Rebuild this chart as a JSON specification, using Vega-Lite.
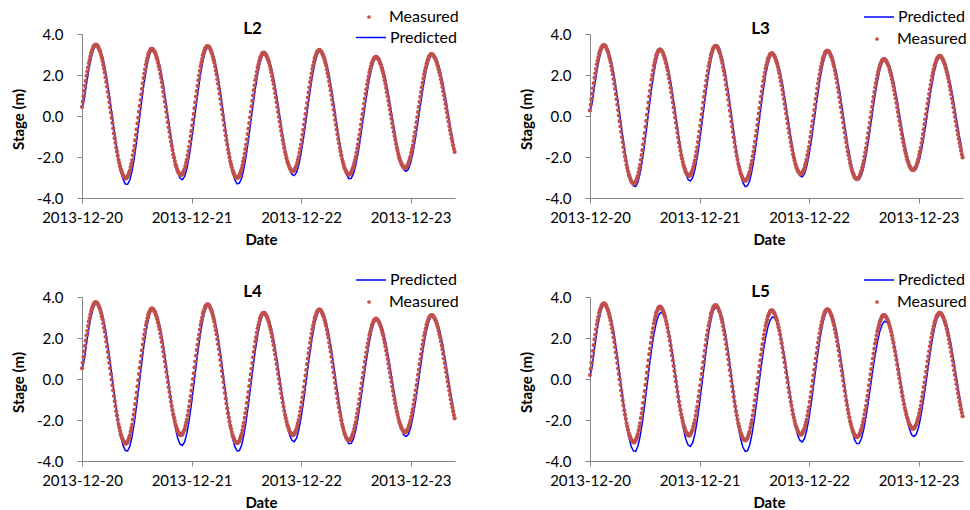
{
"$schema":"https://vega.github.io/schema/vega-lite/v6.json",
"background":"white",
"padding":{"left":11,"top":1,"right":2,"bottom":0},
"bounds":"flush",
"columns":2,
"spacing":{"row":99,"column":135},
"resolve":{"scale":{"fill":"independent","stroke":"independent"},"legend":{"fill":"independent","stroke":"independent"}},
"config":{
"font":"Lato",
"view":{"stroke":null},
"axis":{"grid":false,"domainColor":"#868686","tickColor":"#868686","labelColor":"#000000","titleColor":"#000000","labelFont":"Lato","titleFont":"Lato","labelFontSize":15,"titleFontSize":15,"titleFontWeight":"bold","tickSize":5,"labelFlush":false,"labelBound":false,"labelOverlap":false},
"legend":{"labelFont":"Lato","labelFontSize":16,"labelColor":"#000000","padding":0,"symbolOpacity":1}
},
"datasets":{
"L2m":[
{"t":0,"m":0.44},{"t":10,"m":0.7},{"t":20,"m":0.96},{"t":30,"m":1.22},{"t":40,"m":1.47},{"t":50,"m":1.71},{"t":60,"m":1.96},{"t":70,"m":2.17},{"t":80,"m":2.37},{"t":90,"m":2.58},{"t":100,"m":2.74},{"t":110,"m":2.91},{"t":120,"m":3.07},{"t":130,"m":3.17},{"t":140,"m":3.28},{"t":150,"m":3.38},{"t":160,"m":3.43},{"t":170,"m":3.46},{"t":180,"m":3.48},{"t":190,"m":3.47},{"t":200,"m":3.44},{"t":210,"m":3.39},{"t":220,"m":3.3},{"t":230,"m":3.21},{"t":240,"m":3.12},{"t":250,"m":2.97},{"t":260,"m":2.83},{"t":270,"m":2.68},{"t":280,"m":2.49},{"t":290,"m":2.3},{"t":300,"m":2.11},{"t":310,"m":1.88},{"t":320,"m":1.66},{"t":330,"m":1.43},{"t":340,"m":1.18},{"t":350,"m":0.93},{"t":360,"m":0.68},{"t":370,"m":0.42},{"t":380,"m":0.17},{"t":390,"m":-0.09},{"t":400,"m":-0.34},{"t":410,"m":-0.6},{"t":420,"m":-0.85},{"t":430,"m":-1.08},{"t":440,"m":-1.31},{"t":450,"m":-1.54},{"t":460,"m":-1.74},{"t":470,"m":-1.94},{"t":480,"m":-2.14},{"t":490,"m":-2.29},{"t":500,"m":-2.45},{"t":510,"m":-2.6},{"t":520,"m":-2.7},{"t":530,"m":-2.81},{"t":540,"m":-2.91},{"t":550,"m":-2.95},{"t":560,"m":-3.0},{"t":570,"m":-3.04},{"t":580,"m":-3.04},{"t":590,"m":-3.0},{"t":600,"m":-2.96},{"t":610,"m":-2.86},{"t":620,"m":-2.76},{"t":630,"m":-2.66},{"t":640,"m":-2.49},{"t":650,"m":-2.32},{"t":660,"m":-2.15},{"t":670,"m":-1.92},{"t":680,"m":-1.69},{"t":690,"m":-1.46},{"t":700,"m":-1.19},{"t":710,"m":-0.92},{"t":720,"m":-0.65},{"t":730,"m":-0.36},{"t":740,"m":-0.08},{"t":750,"m":0.21},{"t":760,"m":0.49},{"t":770,"m":0.78},{"t":780,"m":1.06},{"t":790,"m":1.32},{"t":800,"m":1.59},{"t":810,"m":1.85},{"t":820,"m":2.07},{"t":830,"m":2.28},{"t":840,"m":2.5},{"t":850,"m":2.66},{"t":860,"m":2.82},{"t":870,"m":2.98},{"t":880,"m":3.07},{"t":890,"m":3.15},{"t":900,"m":3.24},{"t":910,"m":3.27},{"t":920,"m":3.28},{"t":930,"m":3.26},{"t":940,"m":3.21},{"t":950,"m":3.15},{"t":960,"m":3.1},{"t":970,"m":2.99},{"t":980,"m":2.87},{"t":990,"m":2.76},{"t":1000,"m":2.6},{"t":1010,"m":2.43},{"t":1020,"m":2.27},{"t":1030,"m":2.06},{"t":1040,"m":1.86},{"t":1050,"m":1.65},{"t":1060,"m":1.42},{"t":1070,"m":1.18},{"t":1080,"m":0.95},{"t":1090,"m":0.7},{"t":1100,"m":0.45},{"t":1110,"m":0.2},{"t":1120,"m":-0.05},{"t":1130,"m":-0.3},{"t":1140,"m":-0.55},{"t":1150,"m":-0.78},{"t":1160,"m":-1.02},{"t":1170,"m":-1.25},{"t":1180,"m":-1.46},{"t":1190,"m":-1.66},{"t":1200,"m":-1.87},{"t":1210,"m":-2.03},{"t":1220,"m":-2.2},{"t":1230,"m":-2.36},{"t":1240,"m":-2.47},{"t":1250,"m":-2.59},{"t":1260,"m":-2.7},{"t":1270,"m":-2.75},{"t":1280,"m":-2.81},{"t":1290,"m":-2.86},{"t":1300,"m":-2.88},{"t":1310,"m":-2.87},{"t":1320,"m":-2.84},{"t":1330,"m":-2.76},{"t":1340,"m":-2.67},{"t":1350,"m":-2.59},{"t":1360,"m":-2.44},{"t":1370,"m":-2.28},{"t":1380,"m":-2.13},{"t":1390,"m":-1.92},{"t":1400,"m":-1.71},{"t":1410,"m":-1.5},{"t":1420,"m":-1.25},{"t":1430,"m":-0.99},{"t":1440,"m":-0.74},{"t":1450,"m":-0.46},{"t":1460,"m":-0.18},{"t":1470,"m":0.1},{"t":1480,"m":0.38},{"t":1490,"m":0.66},{"t":1500,"m":0.94},{"t":1510,"m":1.21},{"t":1520,"m":1.47},{"t":1530,"m":1.74},{"t":1540,"m":1.97},{"t":1550,"m":2.2},{"t":1560,"m":2.43},{"t":1570,"m":2.61},{"t":1580,"m":2.78},{"t":1590,"m":2.96},{"t":1600,"m":3.07},{"t":1610,"m":3.19},{"t":1620,"m":3.3},{"t":1630,"m":3.35},{"t":1640,"m":3.38},{"t":1650,"m":3.41},{"t":1660,"m":3.4},{"t":1670,"m":3.37},{"t":1680,"m":3.32},{"t":1690,"m":3.23},{"t":1700,"m":3.13},{"t":1710,"m":3.04},{"t":1720,"m":2.89},{"t":1730,"m":2.75},{"t":1740,"m":2.6},{"t":1750,"m":2.41},{"t":1760,"m":2.21},{"t":1770,"m":2.02},{"t":1780,"m":1.79},{"t":1790,"m":1.57},{"t":1800,"m":1.34},{"t":1810,"m":1.09},{"t":1820,"m":0.83},{"t":1830,"m":0.58},{"t":1840,"m":0.32},{"t":1850,"m":0.07},{"t":1860,"m":-0.19},{"t":1870,"m":-0.44},{"t":1880,"m":-0.7},{"t":1890,"m":-0.95},{"t":1900,"m":-1.18},{"t":1910,"m":-1.4},{"t":1920,"m":-1.63},{"t":1930,"m":-1.82},{"t":1940,"m":-2.02},{"t":1950,"m":-2.21},{"t":1960,"m":-2.36},{"t":1970,"m":-2.5},{"t":1980,"m":-2.65},{"t":1990,"m":-2.74},{"t":2000,"m":-2.84},{"t":2010,"m":-2.93},{"t":2020,"m":-2.97},{"t":2030,"m":-3.0},{"t":2040,"m":-3.02},{"t":2050,"m":-3.01},{"t":2060,"m":-2.97},{"t":2070,"m":-2.91},{"t":2080,"m":-2.8},{"t":2090,"m":-2.69},{"t":2100,"m":-2.58},{"t":2110,"m":-2.41},{"t":2120,"m":-2.23},{"t":2130,"m":-2.06},{"t":2140,"m":-1.84},{"t":2150,"m":-1.62},{"t":2160,"m":-1.4},{"t":2170,"m":-1.14},{"t":2180,"m":-0.88},{"t":2190,"m":-0.62},{"t":2200,"m":-0.35},{"t":2210,"m":-0.07},{"t":2220,"m":0.2},{"t":2230,"m":0.47},{"t":2240,"m":0.74},{"t":2250,"m":1.01},{"t":2260,"m":1.26},{"t":2270,"m":1.5},{"t":2280,"m":1.75},{"t":2290,"m":1.95},{"t":2300,"m":2.16},{"t":2310,"m":2.36},{"t":2320,"m":2.51},{"t":2330,"m":2.66},{"t":2340,"m":2.81},{"t":2350,"m":2.89},{"t":2360,"m":2.97},{"t":2370,"m":3.05},{"t":2380,"m":3.08},{"t":2390,"m":3.09},{"t":2400,"m":3.08},{"t":2410,"m":3.03},{"t":2420,"m":2.98},{"t":2430,"m":2.92},{"t":2440,"m":2.81},{"t":2450,"m":2.71},{"t":2460,"m":2.6},{"t":2470,"m":2.45},{"t":2480,"m":2.29},{"t":2490,"m":2.14},{"t":2500,"m":1.95},{"t":2510,"m":1.75},{"t":2520,"m":1.56},{"t":2530,"m":1.34},{"t":2540,"m":1.12},{"t":2550,"m":0.9},{"t":2560,"m":0.67},{"t":2570,"m":0.43},{"t":2580,"m":0.2},{"t":2590,"m":-0.04},{"t":2600,"m":-0.27},{"t":2610,"m":-0.51},{"t":2620,"m":-0.73},{"t":2630,"m":-0.95},{"t":2640,"m":-1.17},{"t":2650,"m":-1.36},{"t":2660,"m":-1.56},{"t":2670,"m":-1.75},{"t":2680,"m":-1.9},{"t":2690,"m":-2.06},{"t":2700,"m":-2.21},{"t":2710,"m":-2.32},{"t":2720,"m":-2.42},{"t":2730,"m":-2.53},{"t":2740,"m":-2.58},{"t":2750,"m":-2.64},{"t":2760,"m":-2.69},{"t":2770,"m":-2.7},{"t":2780,"m":-2.69},{"t":2790,"m":-2.66},{"t":2800,"m":-2.58},{"t":2810,"m":-2.51},{"t":2820,"m":-2.43},{"t":2830,"m":-2.29},{"t":2840,"m":-2.14},{"t":2850,"m":-2.0},{"t":2860,"m":-1.8},{"t":2870,"m":-1.6},{"t":2880,"m":-1.4},{"t":2890,"m":-1.16},{"t":2900,"m":-0.92},{"t":2910,"m":-0.68},{"t":2920,"m":-0.42},{"t":2930,"m":-0.16},{"t":2940,"m":0.1},{"t":2950,"m":0.37},{"t":2960,"m":0.63},{"t":2970,"m":0.9},{"t":2980,"m":1.15},{"t":2990,"m":1.4},{"t":3000,"m":1.65},{"t":3010,"m":1.86},{"t":3020,"m":2.08},{"t":3030,"m":2.29},{"t":3040,"m":2.46},{"t":3050,"m":2.63},{"t":3060,"m":2.8},{"t":3070,"m":2.9},{"t":3080,"m":3.01},{"t":3090,"m":3.11},{"t":3100,"m":3.16},{"t":3110,"m":3.2},{"t":3120,"m":3.22},{"t":3130,"m":3.2},{"t":3140,"m":3.17},{"t":3150,"m":3.13},{"t":3160,"m":3.04},{"t":3170,"m":2.96},{"t":3180,"m":2.87},{"t":3190,"m":2.73},{"t":3200,"m":2.6},{"t":3210,"m":2.46},{"t":3220,"m":2.28},{"t":3230,"m":2.09},{"t":3240,"m":1.91},{"t":3250,"m":1.69},{"t":3260,"m":1.48},{"t":3270,"m":1.26},{"t":3280,"m":1.02},{"t":3290,"m":0.79},{"t":3300,"m":0.55},{"t":3310,"m":0.3},{"t":3320,"m":0.06},{"t":3330,"m":-0.19},{"t":3340,"m":-0.43},{"t":3350,"m":-0.66},{"t":3360,"m":-0.9},{"t":3370,"m":-1.12},{"t":3380,"m":-1.33},{"t":3390,"m":-1.55},{"t":3400,"m":-1.73},{"t":3410,"m":-1.92},{"t":3420,"m":-2.1},{"t":3430,"m":-2.24},{"t":3440,"m":-2.37},{"t":3450,"m":-2.51},{"t":3460,"m":-2.6},{"t":3470,"m":-2.68},{"t":3480,"m":-2.77},{"t":3490,"m":-2.8},{"t":3500,"m":-2.83},{"t":3510,"m":-2.86},{"t":3520,"m":-2.85},{"t":3530,"m":-2.81},{"t":3540,"m":-2.76},{"t":3550,"m":-2.66},{"t":3560,"m":-2.56},{"t":3570,"m":-2.46},{"t":3580,"m":-2.3},{"t":3590,"m":-2.15},{"t":3600,"m":-1.99},{"t":3610,"m":-1.79},{"t":3620,"m":-1.58},{"t":3630,"m":-1.38},{"t":3640,"m":-1.14},{"t":3650,"m":-0.91},{"t":3660,"m":-0.67},{"t":3670,"m":-0.42},{"t":3680,"m":-0.16},{"t":3690,"m":0.09},{"t":3700,"m":0.34},{"t":3710,"m":0.6},{"t":3720,"m":0.85},{"t":3730,"m":1.08},{"t":3740,"m":1.31},{"t":3750,"m":1.54},{"t":3760,"m":1.74},{"t":3770,"m":1.93},{"t":3780,"m":2.13},{"t":3790,"m":2.28},{"t":3800,"m":2.42},{"t":3810,"m":2.57},{"t":3820,"m":2.65},{"t":3830,"m":2.74},{"t":3840,"m":2.82},{"t":3850,"m":2.85},{"t":3860,"m":2.88},{"t":3870,"m":2.89},{"t":3880,"m":2.86},{"t":3890,"m":2.81},{"t":3900,"m":2.77},{"t":3910,"m":2.68},{"t":3920,"m":2.59},{"t":3930,"m":2.5},{"t":3940,"m":2.36},{"t":3950,"m":2.23},{"t":3960,"m":2.09},{"t":3970,"m":1.92},{"t":3980,"m":1.74},{"t":3990,"m":1.57},{"t":4000,"m":1.37},{"t":4010,"m":1.16},{"t":4020,"m":0.96},{"t":4030,"m":0.74},{"t":4040,"m":0.53},{"t":4050,"m":0.31},{"t":4060,"m":0.09},{"t":4070,"m":-0.13},{"t":4080,"m":-0.35},{"t":4090,"m":-0.56},{"t":4100,"m":-0.77},{"t":4110,"m":-0.98},{"t":4120,"m":-1.17},{"t":4130,"m":-1.36},{"t":4140,"m":-1.55},{"t":4150,"m":-1.7},{"t":4160,"m":-1.86},{"t":4170,"m":-2.01},{"t":4180,"m":-2.12},{"t":4190,"m":-2.22},{"t":4200,"m":-2.33},{"t":4210,"m":-2.39},{"t":4220,"m":-2.45},{"t":4230,"m":-2.51},{"t":4240,"m":-2.53},{"t":4250,"m":-2.54},{"t":4260,"m":-2.52},{"t":4270,"m":-2.47},{"t":4280,"m":-2.4},{"t":4290,"m":-2.34},{"t":4300,"m":-2.22},{"t":4310,"m":-2.09},{"t":4320,"m":-1.97},{"t":4330,"m":-1.79},{"t":4340,"m":-1.62},{"t":4350,"m":-1.44},{"t":4360,"m":-1.22},{"t":4370,"m":-1.01},{"t":4380,"m":-0.79},{"t":4390,"m":-0.55},{"t":4400,"m":-0.3},{"t":4410,"m":-0.06},{"t":4420,"m":0.19},{"t":4430,"m":0.44},{"t":4440,"m":0.69},{"t":4450,"m":0.93},{"t":4460,"m":1.16},{"t":4470,"m":1.4},{"t":4480,"m":1.61},{"t":4490,"m":1.83},{"t":4500,"m":2.04},{"t":4510,"m":2.21},{"t":4520,"m":2.37},{"t":4530,"m":2.54},{"t":4540,"m":2.65},{"t":4550,"m":2.77},{"t":4560,"m":2.88},{"t":4570,"m":2.93},{"t":4580,"m":2.98},{"t":4590,"m":3.02},{"t":4600,"m":3.02},{"t":4610,"m":3.0},{"t":4620,"m":2.97},{"t":4630,"m":2.9},{"t":4640,"m":2.84},{"t":4650,"m":2.77},{"t":4660,"m":2.66},{"t":4670,"m":2.54},{"t":4680,"m":2.43},{"t":4690,"m":2.28},{"t":4700,"m":2.13},{"t":4710,"m":1.98},{"t":4720,"m":1.79},{"t":4730,"m":1.61},{"t":4740,"m":1.42},{"t":4750,"m":1.21},{"t":4760,"m":1.01},{"t":4770,"m":0.8},{"t":4780,"m":0.59},{"t":4790,"m":0.37},{"t":4800,"m":0.16},{"t":4810,"m":-0.06},{"t":4820,"m":-0.27},{"t":4830,"m":-0.49},{"t":4840,"m":-0.69},{"t":4850,"m":-0.88},{"t":4860,"m":-1.08},{"t":4870,"m":-1.25},{"t":4880,"m":-1.43},{"t":4890,"m":-1.6},{"t":4900,"m":-1.75}
],
"L2p":[
{"t":0,"p":0.4},{"t":30,"p":0.83},{"t":60,"p":1.59},{"t":90,"p":2.27},{"t":120,"p":2.83},{"t":150,"p":3.23},{"t":180,"p":3.43},{"t":210,"p":3.44},{"t":240,"p":3.25},{"t":270,"p":2.9},{"t":300,"p":2.38},{"t":330,"p":1.74},{"t":360,"p":0.99},{"t":390,"p":0.19},{"t":420,"p":-0.62},{"t":450,"p":-1.4},{"t":480,"p":-2.09},{"t":510,"p":-2.67},{"t":540,"p":-3.08},{"t":570,"p":-3.32},{"t":600,"p":-3.33},{"t":630,"p":-3.11},{"t":660,"p":-2.66},{"t":690,"p":-2.0},{"t":720,"p":-1.19},{"t":750,"p":-0.3},{"t":780,"p":0.59},{"t":810,"p":1.44},{"t":840,"p":2.17},{"t":870,"p":2.74},{"t":900,"p":3.11},{"t":930,"p":3.25},{"t":960,"p":3.18},{"t":990,"p":2.93},{"t":1020,"p":2.51},{"t":1050,"p":1.94},{"t":1080,"p":1.26},{"t":1110,"p":0.51},{"t":1140,"p":-0.28},{"t":1170,"p":-1.04},{"t":1200,"p":-1.74},{"t":1230,"p":-2.33},{"t":1260,"p":-2.78},{"t":1290,"p":-3.04},{"t":1320,"p":-3.11},{"t":1350,"p":-2.95},{"t":1380,"p":-2.56},{"t":1410,"p":-1.97},{"t":1440,"p":-1.23},{"t":1470,"p":-0.39},{"t":1500,"p":0.48},{"t":1530,"p":1.32},{"t":1560,"p":2.08},{"t":1590,"p":2.69},{"t":1620,"p":3.13},{"t":1650,"p":3.36},{"t":1680,"p":3.37},{"t":1710,"p":3.18},{"t":1740,"p":2.82},{"t":1770,"p":2.29},{"t":1800,"p":1.65},{"t":1830,"p":0.9},{"t":1860,"p":0.09},{"t":1890,"p":-0.72},{"t":1920,"p":-1.49},{"t":1950,"p":-2.17},{"t":1980,"p":-2.72},{"t":2010,"p":-3.11},{"t":2040,"p":-3.31},{"t":2070,"p":-3.28},{"t":2100,"p":-3.03},{"t":2130,"p":-2.56},{"t":2160,"p":-1.91},{"t":2190,"p":-1.13},{"t":2220,"p":-0.28},{"t":2250,"p":0.57},{"t":2280,"p":1.36},{"t":2310,"p":2.05},{"t":2340,"p":2.58},{"t":2370,"p":2.93},{"t":2400,"p":3.06},{"t":2430,"p":3.0},{"t":2460,"p":2.76},{"t":2490,"p":2.36},{"t":2520,"p":1.83},{"t":2550,"p":1.2},{"t":2580,"p":0.49},{"t":2610,"p":-0.25},{"t":2640,"p":-0.97},{"t":2670,"p":-1.63},{"t":2700,"p":-2.18},{"t":2730,"p":-2.6},{"t":2760,"p":-2.85},{"t":2790,"p":-2.91},{"t":2820,"p":-2.76},{"t":2850,"p":-2.4},{"t":2880,"p":-1.85},{"t":2910,"p":-1.15},{"t":2940,"p":-0.36},{"t":2970,"p":0.46},{"t":3000,"p":1.26},{"t":3030,"p":1.96},{"t":3060,"p":2.54},{"t":3090,"p":2.96},{"t":3120,"p":3.17},{"t":3150,"p":3.18},{"t":3180,"p":3.0},{"t":3210,"p":2.66},{"t":3240,"p":2.17},{"t":3270,"p":1.56},{"t":3300,"p":0.86},{"t":3330,"p":0.1},{"t":3360,"p":-0.66},{"t":3390,"p":-1.37},{"t":3420,"p":-2.01},{"t":3450,"p":-2.52},{"t":3480,"p":-2.87},{"t":3510,"p":-3.06},{"t":3540,"p":-3.04},{"t":3570,"p":-2.82},{"t":3600,"p":-2.4},{"t":3630,"p":-1.82},{"t":3660,"p":-1.12},{"t":3690,"p":-0.35},{"t":3720,"p":0.44},{"t":3750,"p":1.18},{"t":3780,"p":1.83},{"t":3810,"p":2.35},{"t":3840,"p":2.7},{"t":3870,"p":2.86},{"t":3900,"p":2.83},{"t":3930,"p":2.63},{"t":3960,"p":2.29},{"t":3990,"p":1.82},{"t":4020,"p":1.24},{"t":4050,"p":0.59},{"t":4080,"p":-0.09},{"t":4110,"p":-0.76},{"t":4140,"p":-1.39},{"t":4170,"p":-1.94},{"t":4200,"p":-2.35},{"t":4230,"p":-2.61},{"t":4260,"p":-2.7},{"t":4290,"p":-2.61},{"t":4320,"p":-2.31},{"t":4350,"p":-1.83},{"t":4380,"p":-1.2},{"t":4410,"p":-0.48},{"t":4440,"p":0.28},{"t":4470,"p":1.03},{"t":4500,"p":1.71},{"t":4530,"p":2.29},{"t":4560,"p":2.71},{"t":4590,"p":2.95},{"t":4620,"p":3.0},{"t":4650,"p":2.87},{"t":4680,"p":2.6},{"t":4710,"p":2.2},{"t":4740,"p":1.69},{"t":4770,"p":1.09},{"t":4800,"p":0.44},{"t":4830,"p":-0.23},{"t":4860,"p":-0.87},{"t":4890,"p":-1.45}
],
"L3m":[
{"t":0,"m":0.27},{"t":10,"m":0.54},{"t":20,"m":0.82},{"t":30,"m":1.09},{"t":40,"m":1.35},{"t":50,"m":1.6},{"t":60,"m":1.86},{"t":70,"m":2.08},{"t":80,"m":2.3},{"t":90,"m":2.52},{"t":100,"m":2.69},{"t":110,"m":2.86},{"t":120,"m":3.03},{"t":130,"m":3.14},{"t":140,"m":3.24},{"t":150,"m":3.35},{"t":160,"m":3.4},{"t":170,"m":3.44},{"t":180,"m":3.46},{"t":190,"m":3.45},{"t":200,"m":3.42},{"t":210,"m":3.37},{"t":220,"m":3.27},{"t":230,"m":3.18},{"t":240,"m":3.08},{"t":250,"m":2.93},{"t":260,"m":2.78},{"t":270,"m":2.63},{"t":280,"m":2.43},{"t":290,"m":2.24},{"t":300,"m":2.04},{"t":310,"m":1.8},{"t":320,"m":1.57},{"t":330,"m":1.33},{"t":340,"m":1.07},{"t":350,"m":0.82},{"t":360,"m":0.56},{"t":370,"m":0.29},{"t":380,"m":0.02},{"t":390,"m":-0.25},{"t":400,"m":-0.51},{"t":410,"m":-0.77},{"t":420,"m":-1.03},{"t":430,"m":-1.27},{"t":440,"m":-1.52},{"t":450,"m":-1.76},{"t":460,"m":-1.97},{"t":470,"m":-2.17},{"t":480,"m":-2.38},{"t":490,"m":-2.54},{"t":500,"m":-2.7},{"t":510,"m":-2.86},{"t":520,"m":-2.96},{"t":530,"m":-3.07},{"t":540,"m":-3.17},{"t":550,"m":-3.22},{"t":560,"m":-3.26},{"t":570,"m":-3.31},{"t":580,"m":-3.31},{"t":590,"m":-3.28},{"t":600,"m":-3.23},{"t":610,"m":-3.13},{"t":620,"m":-3.02},{"t":630,"m":-2.92},{"t":640,"m":-2.74},{"t":650,"m":-2.56},{"t":660,"m":-2.38},{"t":670,"m":-2.14},{"t":680,"m":-1.91},{"t":690,"m":-1.67},{"t":700,"m":-1.39},{"t":710,"m":-1.11},{"t":720,"m":-0.83},{"t":730,"m":-0.53},{"t":740,"m":-0.24},{"t":750,"m":0.06},{"t":760,"m":0.36},{"t":770,"m":0.65},{"t":780,"m":0.95},{"t":790,"m":1.22},{"t":800,"m":1.5},{"t":810,"m":1.77},{"t":820,"m":1.99},{"t":830,"m":2.22},{"t":840,"m":2.44},{"t":850,"m":2.61},{"t":860,"m":2.77},{"t":870,"m":2.94},{"t":880,"m":3.03},{"t":890,"m":3.11},{"t":900,"m":3.2},{"t":910,"m":3.23},{"t":920,"m":3.25},{"t":930,"m":3.23},{"t":940,"m":3.19},{"t":950,"m":3.13},{"t":960,"m":3.07},{"t":970,"m":2.96},{"t":980,"m":2.84},{"t":990,"m":2.73},{"t":1000,"m":2.57},{"t":1010,"m":2.4},{"t":1020,"m":2.24},{"t":1030,"m":2.03},{"t":1040,"m":1.83},{"t":1050,"m":1.62},{"t":1060,"m":1.38},{"t":1070,"m":1.15},{"t":1080,"m":0.91},{"t":1090,"m":0.66},{"t":1100,"m":0.42},{"t":1110,"m":0.17},{"t":1120,"m":-0.08},{"t":1130,"m":-0.33},{"t":1140,"m":-0.58},{"t":1150,"m":-0.82},{"t":1160,"m":-1.05},{"t":1170,"m":-1.29},{"t":1180,"m":-1.5},{"t":1190,"m":-1.7},{"t":1200,"m":-1.91},{"t":1210,"m":-2.07},{"t":1220,"m":-2.24},{"t":1230,"m":-2.4},{"t":1240,"m":-2.51},{"t":1250,"m":-2.63},{"t":1260,"m":-2.74},{"t":1270,"m":-2.79},{"t":1280,"m":-2.85},{"t":1290,"m":-2.9},{"t":1300,"m":-2.92},{"t":1310,"m":-2.91},{"t":1320,"m":-2.88},{"t":1330,"m":-2.8},{"t":1340,"m":-2.71},{"t":1350,"m":-2.63},{"t":1360,"m":-2.48},{"t":1370,"m":-2.32},{"t":1380,"m":-2.17},{"t":1390,"m":-1.96},{"t":1400,"m":-1.74},{"t":1410,"m":-1.53},{"t":1420,"m":-1.27},{"t":1430,"m":-1.02},{"t":1440,"m":-0.76},{"t":1450,"m":-0.48},{"t":1460,"m":-0.2},{"t":1470,"m":0.08},{"t":1480,"m":0.36},{"t":1490,"m":0.65},{"t":1500,"m":0.93},{"t":1510,"m":1.2},{"t":1520,"m":1.46},{"t":1530,"m":1.73},{"t":1540,"m":1.96},{"t":1550,"m":2.2},{"t":1560,"m":2.43},{"t":1570,"m":2.61},{"t":1580,"m":2.79},{"t":1590,"m":2.97},{"t":1600,"m":3.08},{"t":1610,"m":3.2},{"t":1620,"m":3.31},{"t":1630,"m":3.36},{"t":1640,"m":3.4},{"t":1650,"m":3.42},{"t":1660,"m":3.41},{"t":1670,"m":3.38},{"t":1680,"m":3.33},{"t":1690,"m":3.23},{"t":1700,"m":3.14},{"t":1710,"m":3.04},{"t":1720,"m":2.89},{"t":1730,"m":2.74},{"t":1740,"m":2.59},{"t":1750,"m":2.39},{"t":1760,"m":2.2},{"t":1770,"m":2.0},{"t":1780,"m":1.77},{"t":1790,"m":1.53},{"t":1800,"m":1.3},{"t":1810,"m":1.04},{"t":1820,"m":0.79},{"t":1830,"m":0.53},{"t":1840,"m":0.26},{"t":1850,"m":0.0},{"t":1860,"m":-0.27},{"t":1870,"m":-0.53},{"t":1880,"m":-0.78},{"t":1890,"m":-1.04},{"t":1900,"m":-1.27},{"t":1910,"m":-1.51},{"t":1920,"m":-1.74},{"t":1930,"m":-1.94},{"t":1940,"m":-2.13},{"t":1950,"m":-2.33},{"t":1960,"m":-2.48},{"t":1970,"m":-2.63},{"t":1980,"m":-2.78},{"t":1990,"m":-2.88},{"t":2000,"m":-2.97},{"t":2010,"m":-3.07},{"t":2020,"m":-3.11},{"t":2030,"m":-3.14},{"t":2040,"m":-3.16},{"t":2050,"m":-3.14},{"t":2060,"m":-3.1},{"t":2070,"m":-3.05},{"t":2080,"m":-2.94},{"t":2090,"m":-2.83},{"t":2100,"m":-2.72},{"t":2110,"m":-2.54},{"t":2120,"m":-2.37},{"t":2130,"m":-2.19},{"t":2140,"m":-1.96},{"t":2150,"m":-1.74},{"t":2160,"m":-1.51},{"t":2170,"m":-1.25},{"t":2180,"m":-0.98},{"t":2190,"m":-0.72},{"t":2200,"m":-0.44},{"t":2210,"m":-0.16},{"t":2220,"m":0.12},{"t":2230,"m":0.39},{"t":2240,"m":0.67},{"t":2250,"m":0.94},{"t":2260,"m":1.19},{"t":2270,"m":1.45},{"t":2280,"m":1.7},{"t":2290,"m":1.91},{"t":2300,"m":2.11},{"t":2310,"m":2.32},{"t":2320,"m":2.47},{"t":2330,"m":2.62},{"t":2340,"m":2.77},{"t":2350,"m":2.85},{"t":2360,"m":2.94},{"t":2370,"m":3.02},{"t":2380,"m":3.04},{"t":2390,"m":3.06},{"t":2400,"m":3.05},{"t":2410,"m":3.0},{"t":2420,"m":2.95},{"t":2430,"m":2.89},{"t":2440,"m":2.78},{"t":2450,"m":2.67},{"t":2460,"m":2.56},{"t":2470,"m":2.4},{"t":2480,"m":2.25},{"t":2490,"m":2.09},{"t":2500,"m":1.89},{"t":2510,"m":1.7},{"t":2520,"m":1.5},{"t":2530,"m":1.28},{"t":2540,"m":1.05},{"t":2550,"m":0.83},{"t":2560,"m":0.59},{"t":2570,"m":0.36},{"t":2580,"m":0.12},{"t":2590,"m":-0.12},{"t":2600,"m":-0.36},{"t":2610,"m":-0.6},{"t":2620,"m":-0.82},{"t":2630,"m":-1.05},{"t":2640,"m":-1.27},{"t":2650,"m":-1.47},{"t":2660,"m":-1.66},{"t":2670,"m":-1.86},{"t":2680,"m":-2.02},{"t":2690,"m":-2.17},{"t":2700,"m":-2.33},{"t":2710,"m":-2.44},{"t":2720,"m":-2.55},{"t":2730,"m":-2.66},{"t":2740,"m":-2.71},{"t":2750,"m":-2.77},{"t":2760,"m":-2.82},{"t":2770,"m":-2.83},{"t":2780,"m":-2.82},{"t":2790,"m":-2.79},{"t":2800,"m":-2.71},{"t":2810,"m":-2.63},{"t":2820,"m":-2.55},{"t":2830,"m":-2.4},{"t":2840,"m":-2.26},{"t":2850,"m":-2.11},{"t":2860,"m":-1.91},{"t":2870,"m":-1.71},{"t":2880,"m":-1.51},{"t":2890,"m":-1.27},{"t":2900,"m":-1.02},{"t":2910,"m":-0.78},{"t":2920,"m":-0.51},{"t":2930,"m":-0.25},{"t":2940,"m":0.02},{"t":2950,"m":0.29},{"t":2960,"m":0.56},{"t":2970,"m":0.83},{"t":2980,"m":1.08},{"t":2990,"m":1.34},{"t":3000,"m":1.59},{"t":3010,"m":1.81},{"t":3020,"m":2.03},{"t":3030,"m":2.25},{"t":3040,"m":2.42},{"t":3050,"m":2.59},{"t":3060,"m":2.76},{"t":3070,"m":2.87},{"t":3080,"m":2.97},{"t":3090,"m":3.08},{"t":3100,"m":3.13},{"t":3110,"m":3.17},{"t":3120,"m":3.19},{"t":3130,"m":3.17},{"t":3140,"m":3.14},{"t":3150,"m":3.1},{"t":3160,"m":3.01},{"t":3170,"m":2.92},{"t":3180,"m":2.83},{"t":3190,"m":2.69},{"t":3200,"m":2.54},{"t":3210,"m":2.4},{"t":3220,"m":2.21},{"t":3230,"m":2.03},{"t":3240,"m":1.84},{"t":3250,"m":1.62},{"t":3260,"m":1.39},{"t":3270,"m":1.17},{"t":3280,"m":0.92},{"t":3290,"m":0.68},{"t":3300,"m":0.43},{"t":3310,"m":0.18},{"t":3320,"m":-0.07},{"t":3330,"m":-0.32},{"t":3340,"m":-0.57},{"t":3350,"m":-0.81},{"t":3360,"m":-1.06},{"t":3370,"m":-1.28},{"t":3380,"m":-1.51},{"t":3390,"m":-1.73},{"t":3400,"m":-1.92},{"t":3410,"m":-2.1},{"t":3420,"m":-2.29},{"t":3430,"m":-2.43},{"t":3440,"m":-2.58},{"t":3450,"m":-2.72},{"t":3460,"m":-2.81},{"t":3470,"m":-2.9},{"t":3480,"m":-2.99},{"t":3490,"m":-3.03},{"t":3500,"m":-3.06},{"t":3510,"m":-3.08},{"t":3520,"m":-3.06},{"t":3530,"m":-3.02},{"t":3540,"m":-2.98},{"t":3550,"m":-2.88},{"t":3560,"m":-2.78},{"t":3570,"m":-2.68},{"t":3580,"m":-2.52},{"t":3590,"m":-2.36},{"t":3600,"m":-2.19},{"t":3610,"m":-1.98},{"t":3620,"m":-1.78},{"t":3630,"m":-1.57},{"t":3640,"m":-1.33},{"t":3650,"m":-1.08},{"t":3660,"m":-0.84},{"t":3670,"m":-0.58},{"t":3680,"m":-0.33},{"t":3690,"m":-0.07},{"t":3700,"m":0.19},{"t":3710,"m":0.44},{"t":3720,"m":0.7},{"t":3730,"m":0.93},{"t":3740,"m":1.17},{"t":3750,"m":1.4},{"t":3760,"m":1.6},{"t":3770,"m":1.8},{"t":3780,"m":2.0},{"t":3790,"m":2.15},{"t":3800,"m":2.3},{"t":3810,"m":2.45},{"t":3820,"m":2.54},{"t":3830,"m":2.62},{"t":3840,"m":2.71},{"t":3850,"m":2.74},{"t":3860,"m":2.77},{"t":3870,"m":2.78},{"t":3880,"m":2.75},{"t":3890,"m":2.71},{"t":3900,"m":2.66},{"t":3910,"m":2.57},{"t":3920,"m":2.49},{"t":3930,"m":2.4},{"t":3940,"m":2.26},{"t":3950,"m":2.13},{"t":3960,"m":1.99},{"t":3970,"m":1.81},{"t":3980,"m":1.64},{"t":3990,"m":1.46},{"t":4000,"m":1.26},{"t":4010,"m":1.06},{"t":4020,"m":0.86},{"t":4030,"m":0.64},{"t":4040,"m":0.42},{"t":4050,"m":0.2},{"t":4060,"m":-0.02},{"t":4070,"m":-0.24},{"t":4080,"m":-0.46},{"t":4090,"m":-0.67},{"t":4100,"m":-0.88},{"t":4110,"m":-1.09},{"t":4120,"m":-1.28},{"t":4130,"m":-1.46},{"t":4140,"m":-1.65},{"t":4150,"m":-1.8},{"t":4160,"m":-1.96},{"t":4170,"m":-2.11},{"t":4180,"m":-2.22},{"t":4190,"m":-2.32},{"t":4200,"m":-2.43},{"t":4210,"m":-2.49},{"t":4220,"m":-2.55},{"t":4230,"m":-2.61},{"t":4240,"m":-2.63},{"t":4250,"m":-2.64},{"t":4260,"m":-2.62},{"t":4270,"m":-2.57},{"t":4280,"m":-2.5},{"t":4290,"m":-2.44},{"t":4300,"m":-2.32},{"t":4310,"m":-2.19},{"t":4320,"m":-2.07},{"t":4330,"m":-1.89},{"t":4340,"m":-1.72},{"t":4350,"m":-1.54},{"t":4360,"m":-1.32},{"t":4370,"m":-1.11},{"t":4380,"m":-0.89},{"t":4390,"m":-0.65},{"t":4400,"m":-0.4},{"t":4410,"m":-0.16},{"t":4420,"m":0.09},{"t":4430,"m":0.35},{"t":4440,"m":0.6},{"t":4450,"m":0.84},{"t":4460,"m":1.07},{"t":4470,"m":1.31},{"t":4480,"m":1.52},{"t":4490,"m":1.74},{"t":4500,"m":1.95},{"t":4510,"m":2.12},{"t":4520,"m":2.28},{"t":4530,"m":2.45},{"t":4540,"m":2.56},{"t":4550,"m":2.68},{"t":4560,"m":2.79},{"t":4570,"m":2.84},{"t":4580,"m":2.89},{"t":4590,"m":2.93},{"t":4600,"m":2.93},{"t":4610,"m":2.91},{"t":4620,"m":2.88},{"t":4630,"m":2.81},{"t":4640,"m":2.75},{"t":4650,"m":2.68},{"t":4660,"m":2.56},{"t":4670,"m":2.44},{"t":4680,"m":2.32},{"t":4690,"m":2.16},{"t":4700,"m":2.01},{"t":4710,"m":1.85},{"t":4720,"m":1.66},{"t":4730,"m":1.46},{"t":4740,"m":1.27},{"t":4750,"m":1.06},{"t":4760,"m":0.84},{"t":4770,"m":0.63},{"t":4780,"m":0.41},{"t":4790,"m":0.18},{"t":4800,"m":-0.04},{"t":4810,"m":-0.26},{"t":4820,"m":-0.48},{"t":4830,"m":-0.7},{"t":4840,"m":-0.91},{"t":4850,"m":-1.11},{"t":4860,"m":-1.32},{"t":4870,"m":-1.5},{"t":4880,"m":-1.68},{"t":4890,"m":-1.86},{"t":4900,"m":-2.02}
],
"L3p":[
{"t":0,"p":0.23},{"t":30,"p":0.68},{"t":60,"p":1.48},{"t":90,"p":2.19},{"t":120,"p":2.78},{"t":150,"p":3.19},{"t":180,"p":3.41},{"t":210,"p":3.42},{"t":240,"p":3.22},{"t":270,"p":2.85},{"t":300,"p":2.33},{"t":330,"p":1.67},{"t":360,"p":0.91},{"t":390,"p":0.1},{"t":420,"p":-0.72},{"t":450,"p":-1.5},{"t":480,"p":-2.2},{"t":510,"p":-2.77},{"t":540,"p":-3.18},{"t":570,"p":-3.41},{"t":600,"p":-3.44},{"t":630,"p":-3.23},{"t":660,"p":-2.78},{"t":690,"p":-2.12},{"t":720,"p":-1.32},{"t":750,"p":-0.43},{"t":780,"p":0.48},{"t":810,"p":1.35},{"t":840,"p":2.1},{"t":870,"p":2.69},{"t":900,"p":3.07},{"t":930,"p":3.22},{"t":960,"p":3.15},{"t":990,"p":2.9},{"t":1020,"p":2.48},{"t":1050,"p":1.91},{"t":1080,"p":1.22},{"t":1110,"p":0.47},{"t":1140,"p":-0.31},{"t":1170,"p":-1.09},{"t":1200,"p":-1.8},{"t":1230,"p":-2.39},{"t":1260,"p":-2.83},{"t":1290,"p":-3.1},{"t":1320,"p":-3.17},{"t":1350,"p":-3.01},{"t":1380,"p":-2.62},{"t":1410,"p":-2.02},{"t":1440,"p":-1.27},{"t":1470,"p":-0.42},{"t":1500,"p":0.46},{"t":1530,"p":1.31},{"t":1560,"p":2.07},{"t":1590,"p":2.7},{"t":1620,"p":3.2},{"t":1650,"p":3.45},{"t":1680,"p":3.44},{"t":1710,"p":3.24},{"t":1740,"p":2.81},{"t":1770,"p":2.28},{"t":1800,"p":1.62},{"t":1830,"p":0.85},{"t":1860,"p":0.03},{"t":1890,"p":-0.8},{"t":1920,"p":-1.59},{"t":1950,"p":-2.28},{"t":1980,"p":-2.84},{"t":2010,"p":-3.24},{"t":2040,"p":-3.44},{"t":2070,"p":-3.41},{"t":2100,"p":-3.16},{"t":2130,"p":-2.68},{"t":2160,"p":-2.02},{"t":2190,"p":-1.23},{"t":2220,"p":-0.37},{"t":2250,"p":0.49},{"t":2280,"p":1.31},{"t":2310,"p":2.01},{"t":2340,"p":2.54},{"t":2370,"p":2.9},{"t":2400,"p":3.04},{"t":2430,"p":2.97},{"t":2460,"p":2.72},{"t":2490,"p":2.32},{"t":2520,"p":1.78},{"t":2550,"p":1.14},{"t":2580,"p":0.43},{"t":2610,"p":-0.31},{"t":2640,"p":-1.03},{"t":2670,"p":-1.68},{"t":2700,"p":-2.24},{"t":2730,"p":-2.66},{"t":2760,"p":-2.91},{"t":2790,"p":-2.97},{"t":2820,"p":-2.83},{"t":2850,"p":-2.46},{"t":2880,"p":-1.91},{"t":2910,"p":-1.22},{"t":2940,"p":-0.43},{"t":2970,"p":0.4},{"t":3000,"p":1.2},{"t":3030,"p":1.92},{"t":3060,"p":2.5},{"t":3090,"p":2.92},{"t":3120,"p":3.14},{"t":3150,"p":3.14},{"t":3180,"p":2.96},{"t":3210,"p":2.61},{"t":3240,"p":2.12},{"t":3270,"p":1.5},{"t":3300,"p":0.79},{"t":3330,"p":0.03},{"t":3360,"p":-0.72},{"t":3390,"p":-1.44},{"t":3420,"p":-2.06},{"t":3450,"p":-2.57},{"t":3480,"p":-2.92},{"t":3510,"p":-3.11},{"t":3540,"p":-3.1},{"t":3570,"p":-2.89},{"t":3600,"p":-2.49},{"t":3630,"p":-1.92},{"t":3660,"p":-1.23},{"t":3690,"p":-0.47},{"t":3720,"p":0.31},{"t":3750,"p":1.05},{"t":3780,"p":1.7},{"t":3810,"p":2.23},{"t":3840,"p":2.58},{"t":3870,"p":2.75},{"t":3900,"p":2.72},{"t":3930,"p":2.53},{"t":3960,"p":2.19},{"t":3990,"p":1.72},{"t":4020,"p":1.15},{"t":4050,"p":0.52},{"t":4080,"p":-0.15},{"t":4110,"p":-0.81},{"t":4140,"p":-1.41},{"t":4170,"p":-1.93},{"t":4200,"p":-2.33},{"t":4230,"p":-2.58},{"t":4260,"p":-2.68},{"t":4290,"p":-2.59},{"t":4320,"p":-2.3},{"t":4350,"p":-1.84},{"t":4380,"p":-1.24},{"t":4410,"p":-0.54},{"t":4440,"p":0.21},{"t":4470,"p":0.95},{"t":4500,"p":1.63},{"t":4530,"p":2.2},{"t":4560,"p":2.62},{"t":4590,"p":2.86},{"t":4620,"p":2.91},{"t":4650,"p":2.78},{"t":4680,"p":2.5},{"t":4710,"p":2.08},{"t":4740,"p":1.56},{"t":4770,"p":0.94},{"t":4800,"p":0.28},{"t":4830,"p":-0.4},{"t":4860,"p":-1.04},{"t":4890,"p":-1.63}
],
"L4m":[
{"t":0,"m":0.52},{"t":10,"m":0.8},{"t":20,"m":1.07},{"t":30,"m":1.35},{"t":40,"m":1.61},{"t":50,"m":1.87},{"t":60,"m":2.13},{"t":70,"m":2.35},{"t":80,"m":2.58},{"t":90,"m":2.8},{"t":100,"m":2.97},{"t":110,"m":3.15},{"t":120,"m":3.32},{"t":130,"m":3.43},{"t":140,"m":3.53},{"t":150,"m":3.64},{"t":160,"m":3.69},{"t":170,"m":3.73},{"t":180,"m":3.75},{"t":190,"m":3.74},{"t":200,"m":3.7},{"t":210,"m":3.65},{"t":220,"m":3.56},{"t":230,"m":3.46},{"t":240,"m":3.37},{"t":250,"m":3.22},{"t":260,"m":3.06},{"t":270,"m":2.91},{"t":280,"m":2.71},{"t":290,"m":2.5},{"t":300,"m":2.3},{"t":310,"m":2.06},{"t":320,"m":1.82},{"t":330,"m":1.58},{"t":340,"m":1.32},{"t":350,"m":1.05},{"t":360,"m":0.79},{"t":370,"m":0.52},{"t":380,"m":0.24},{"t":390,"m":-0.03},{"t":400,"m":-0.3},{"t":410,"m":-0.56},{"t":420,"m":-0.83},{"t":430,"m":-1.08},{"t":440,"m":-1.32},{"t":450,"m":-1.57},{"t":460,"m":-1.78},{"t":470,"m":-1.99},{"t":480,"m":-2.2},{"t":490,"m":-2.36},{"t":500,"m":-2.53},{"t":510,"m":-2.69},{"t":520,"m":-2.8},{"t":530,"m":-2.9},{"t":540,"m":-3.01},{"t":550,"m":-3.06},{"t":560,"m":-3.1},{"t":570,"m":-3.15},{"t":580,"m":-3.15},{"t":590,"m":-3.12},{"t":600,"m":-3.07},{"t":610,"m":-2.96},{"t":620,"m":-2.86},{"t":630,"m":-2.75},{"t":640,"m":-2.57},{"t":650,"m":-2.4},{"t":660,"m":-2.22},{"t":670,"m":-1.98},{"t":680,"m":-1.74},{"t":690,"m":-1.5},{"t":700,"m":-1.22},{"t":710,"m":-0.94},{"t":720,"m":-0.66},{"t":730,"m":-0.36},{"t":740,"m":-0.06},{"t":750,"m":0.24},{"t":760,"m":0.54},{"t":770,"m":0.83},{"t":780,"m":1.13},{"t":790,"m":1.4},{"t":800,"m":1.68},{"t":810,"m":1.95},{"t":820,"m":2.18},{"t":830,"m":2.4},{"t":840,"m":2.63},{"t":850,"m":2.79},{"t":860,"m":2.96},{"t":870,"m":3.12},{"t":880,"m":3.21},{"t":890,"m":3.3},{"t":900,"m":3.39},{"t":910,"m":3.42},{"t":920,"m":3.44},{"t":930,"m":3.42},{"t":940,"m":3.38},{"t":950,"m":3.32},{"t":960,"m":3.26},{"t":970,"m":3.15},{"t":980,"m":3.03},{"t":990,"m":2.92},{"t":1000,"m":2.76},{"t":1010,"m":2.59},{"t":1020,"m":2.43},{"t":1030,"m":2.22},{"t":1040,"m":2.02},{"t":1050,"m":1.81},{"t":1060,"m":1.57},{"t":1070,"m":1.34},{"t":1080,"m":1.1},{"t":1090,"m":0.85},{"t":1100,"m":0.6},{"t":1110,"m":0.35},{"t":1120,"m":0.1},{"t":1130,"m":-0.15},{"t":1140,"m":-0.4},{"t":1150,"m":-0.64},{"t":1160,"m":-0.87},{"t":1170,"m":-1.11},{"t":1180,"m":-1.32},{"t":1190,"m":-1.52},{"t":1200,"m":-1.73},{"t":1210,"m":-1.89},{"t":1220,"m":-2.06},{"t":1230,"m":-2.22},{"t":1240,"m":-2.33},{"t":1250,"m":-2.45},{"t":1260,"m":-2.56},{"t":1270,"m":-2.61},{"t":1280,"m":-2.67},{"t":1290,"m":-2.72},{"t":1300,"m":-2.74},{"t":1310,"m":-2.73},{"t":1320,"m":-2.7},{"t":1330,"m":-2.62},{"t":1340,"m":-2.53},{"t":1350,"m":-2.45},{"t":1360,"m":-2.29},{"t":1370,"m":-2.14},{"t":1380,"m":-1.98},{"t":1390,"m":-1.77},{"t":1400,"m":-1.55},{"t":1410,"m":-1.34},{"t":1420,"m":-1.08},{"t":1430,"m":-0.83},{"t":1440,"m":-0.57},{"t":1450,"m":-0.29},{"t":1460,"m":0.0},{"t":1470,"m":0.28},{"t":1480,"m":0.57},{"t":1490,"m":0.85},{"t":1500,"m":1.14},{"t":1510,"m":1.41},{"t":1520,"m":1.67},{"t":1530,"m":1.94},{"t":1540,"m":2.17},{"t":1550,"m":2.41},{"t":1560,"m":2.64},{"t":1570,"m":2.82},{"t":1580,"m":3.0},{"t":1590,"m":3.18},{"t":1600,"m":3.3},{"t":1610,"m":3.41},{"t":1620,"m":3.53},{"t":1630,"m":3.58},{"t":1640,"m":3.62},{"t":1650,"m":3.64},{"t":1660,"m":3.63},{"t":1670,"m":3.6},{"t":1680,"m":3.54},{"t":1690,"m":3.44},{"t":1700,"m":3.35},{"t":1710,"m":3.25},{"t":1720,"m":3.1},{"t":1730,"m":2.94},{"t":1740,"m":2.79},{"t":1750,"m":2.59},{"t":1760,"m":2.38},{"t":1770,"m":2.18},{"t":1780,"m":1.94},{"t":1790,"m":1.7},{"t":1800,"m":1.46},{"t":1810,"m":1.19},{"t":1820,"m":0.93},{"t":1830,"m":0.66},{"t":1840,"m":0.39},{"t":1850,"m":0.12},{"t":1860,"m":-0.15},{"t":1870,"m":-0.42},{"t":1880,"m":-0.68},{"t":1890,"m":-0.95},{"t":1900,"m":-1.19},{"t":1910,"m":-1.43},{"t":1920,"m":-1.67},{"t":1930,"m":-1.87},{"t":1940,"m":-2.08},{"t":1950,"m":-2.28},{"t":1960,"m":-2.43},{"t":1970,"m":-2.59},{"t":1980,"m":-2.74},{"t":1990,"m":-2.84},{"t":2000,"m":-2.93},{"t":2010,"m":-3.03},{"t":2020,"m":-3.07},{"t":2030,"m":-3.1},{"t":2040,"m":-3.13},{"t":2050,"m":-3.11},{"t":2060,"m":-3.07},{"t":2070,"m":-3.02},{"t":2080,"m":-2.91},{"t":2090,"m":-2.79},{"t":2100,"m":-2.68},{"t":2110,"m":-2.5},{"t":2120,"m":-2.31},{"t":2130,"m":-2.13},{"t":2140,"m":-1.9},{"t":2150,"m":-1.67},{"t":2160,"m":-1.44},{"t":2170,"m":-1.17},{"t":2180,"m":-0.9},{"t":2190,"m":-0.63},{"t":2200,"m":-0.35},{"t":2210,"m":-0.06},{"t":2220,"m":0.22},{"t":2230,"m":0.5},{"t":2240,"m":0.78},{"t":2250,"m":1.06},{"t":2260,"m":1.32},{"t":2270,"m":1.57},{"t":2280,"m":1.83},{"t":2290,"m":2.04},{"t":2300,"m":2.26},{"t":2310,"m":2.47},{"t":2320,"m":2.63},{"t":2330,"m":2.78},{"t":2340,"m":2.94},{"t":2350,"m":3.02},{"t":2360,"m":3.11},{"t":2370,"m":3.19},{"t":2380,"m":3.21},{"t":2390,"m":3.22},{"t":2400,"m":3.22},{"t":2410,"m":3.17},{"t":2420,"m":3.11},{"t":2430,"m":3.05},{"t":2440,"m":2.94},{"t":2450,"m":2.84},{"t":2460,"m":2.73},{"t":2470,"m":2.57},{"t":2480,"m":2.41},{"t":2490,"m":2.25},{"t":2500,"m":2.05},{"t":2510,"m":1.85},{"t":2520,"m":1.65},{"t":2530,"m":1.42},{"t":2540,"m":1.2},{"t":2550,"m":0.97},{"t":2560,"m":0.73},{"t":2570,"m":0.49},{"t":2580,"m":0.25},{"t":2590,"m":0.01},{"t":2600,"m":-0.23},{"t":2610,"m":-0.47},{"t":2620,"m":-0.7},{"t":2630,"m":-0.92},{"t":2640,"m":-1.15},{"t":2650,"m":-1.35},{"t":2660,"m":-1.55},{"t":2670,"m":-1.75},{"t":2680,"m":-1.91},{"t":2690,"m":-2.07},{"t":2700,"m":-2.23},{"t":2710,"m":-2.34},{"t":2720,"m":-2.44},{"t":2730,"m":-2.55},{"t":2740,"m":-2.61},{"t":2750,"m":-2.66},{"t":2760,"m":-2.72},{"t":2770,"m":-2.73},{"t":2780,"m":-2.72},{"t":2790,"m":-2.69},{"t":2800,"m":-2.61},{"t":2810,"m":-2.53},{"t":2820,"m":-2.45},{"t":2830,"m":-2.3},{"t":2840,"m":-2.15},{"t":2850,"m":-2.0},{"t":2860,"m":-1.8},{"t":2870,"m":-1.59},{"t":2880,"m":-1.39},{"t":2890,"m":-1.14},{"t":2900,"m":-0.9},{"t":2910,"m":-0.65},{"t":2920,"m":-0.38},{"t":2930,"m":-0.1},{"t":2940,"m":0.17},{"t":2950,"m":0.44},{"t":2960,"m":0.72},{"t":2970,"m":0.99},{"t":2980,"m":1.25},{"t":2990,"m":1.5},{"t":3000,"m":1.76},{"t":3010,"m":1.98},{"t":3020,"m":2.21},{"t":3030,"m":2.43},{"t":3040,"m":2.6},{"t":3050,"m":2.78},{"t":3060,"m":2.95},{"t":3070,"m":3.06},{"t":3080,"m":3.17},{"t":3090,"m":3.28},{"t":3100,"m":3.33},{"t":3110,"m":3.37},{"t":3120,"m":3.39},{"t":3130,"m":3.38},{"t":3140,"m":3.35},{"t":3150,"m":3.3},{"t":3160,"m":3.21},{"t":3170,"m":3.11},{"t":3180,"m":3.02},{"t":3190,"m":2.88},{"t":3200,"m":2.73},{"t":3210,"m":2.59},{"t":3220,"m":2.4},{"t":3230,"m":2.2},{"t":3240,"m":2.01},{"t":3250,"m":1.78},{"t":3260,"m":1.56},{"t":3270,"m":1.33},{"t":3280,"m":1.08},{"t":3290,"m":0.83},{"t":3300,"m":0.58},{"t":3310,"m":0.32},{"t":3320,"m":0.07},{"t":3330,"m":-0.19},{"t":3340,"m":-0.44},{"t":3350,"m":-0.69},{"t":3360,"m":-0.94},{"t":3370,"m":-1.17},{"t":3380,"m":-1.39},{"t":3390,"m":-1.62},{"t":3400,"m":-1.81},{"t":3410,"m":-2.01},{"t":3420,"m":-2.2},{"t":3430,"m":-2.34},{"t":3440,"m":-2.49},{"t":3450,"m":-2.63},{"t":3460,"m":-2.72},{"t":3470,"m":-2.82},{"t":3480,"m":-2.91},{"t":3490,"m":-2.95},{"t":3500,"m":-2.98},{"t":3510,"m":-3.0},{"t":3520,"m":-2.98},{"t":3530,"m":-2.94},{"t":3540,"m":-2.9},{"t":3550,"m":-2.8},{"t":3560,"m":-2.69},{"t":3570,"m":-2.59},{"t":3580,"m":-2.43},{"t":3590,"m":-2.26},{"t":3600,"m":-2.1},{"t":3610,"m":-1.89},{"t":3620,"m":-1.68},{"t":3630,"m":-1.47},{"t":3640,"m":-1.22},{"t":3650,"m":-0.98},{"t":3660,"m":-0.73},{"t":3670,"m":-0.47},{"t":3680,"m":-0.21},{"t":3690,"m":0.05},{"t":3700,"m":0.31},{"t":3710,"m":0.57},{"t":3720,"m":0.83},{"t":3730,"m":1.07},{"t":3740,"m":1.3},{"t":3750,"m":1.54},{"t":3760,"m":1.74},{"t":3770,"m":1.95},{"t":3780,"m":2.15},{"t":3790,"m":2.3},{"t":3800,"m":2.45},{"t":3810,"m":2.6},{"t":3820,"m":2.69},{"t":3830,"m":2.78},{"t":3840,"m":2.87},{"t":3850,"m":2.9},{"t":3860,"m":2.93},{"t":3870,"m":2.94},{"t":3880,"m":2.91},{"t":3890,"m":2.86},{"t":3900,"m":2.82},{"t":3910,"m":2.73},{"t":3920,"m":2.64},{"t":3930,"m":2.55},{"t":3940,"m":2.41},{"t":3950,"m":2.27},{"t":3960,"m":2.13},{"t":3970,"m":1.95},{"t":3980,"m":1.77},{"t":3990,"m":1.59},{"t":4000,"m":1.38},{"t":4010,"m":1.18},{"t":4020,"m":0.97},{"t":4030,"m":0.75},{"t":4040,"m":0.53},{"t":4050,"m":0.31},{"t":4060,"m":0.08},{"t":4070,"m":-0.14},{"t":4080,"m":-0.37},{"t":4090,"m":-0.58},{"t":4100,"m":-0.8},{"t":4110,"m":-1.01},{"t":4120,"m":-1.2},{"t":4130,"m":-1.4},{"t":4140,"m":-1.59},{"t":4150,"m":-1.74},{"t":4160,"m":-1.9},{"t":4170,"m":-2.05},{"t":4180,"m":-2.16},{"t":4190,"m":-2.28},{"t":4200,"m":-2.39},{"t":4210,"m":-2.45},{"t":4220,"m":-2.51},{"t":4230,"m":-2.57},{"t":4240,"m":-2.59},{"t":4250,"m":-2.6},{"t":4260,"m":-2.58},{"t":4270,"m":-2.53},{"t":4280,"m":-2.46},{"t":4290,"m":-2.4},{"t":4300,"m":-2.27},{"t":4310,"m":-2.15},{"t":4320,"m":-2.02},{"t":4330,"m":-1.84},{"t":4340,"m":-1.65},{"t":4350,"m":-1.47},{"t":4360,"m":-1.25},{"t":4370,"m":-1.02},{"t":4380,"m":-0.8},{"t":4390,"m":-0.55},{"t":4400,"m":-0.3},{"t":4410,"m":-0.05},{"t":4420,"m":0.21},{"t":4430,"m":0.46},{"t":4440,"m":0.72},{"t":4450,"m":0.97},{"t":4460,"m":1.21},{"t":4470,"m":1.46},{"t":4480,"m":1.68},{"t":4490,"m":1.89},{"t":4500,"m":2.11},{"t":4510,"m":2.28},{"t":4520,"m":2.46},{"t":4530,"m":2.63},{"t":4540,"m":2.74},{"t":4550,"m":2.86},{"t":4560,"m":2.97},{"t":4570,"m":3.02},{"t":4580,"m":3.07},{"t":4590,"m":3.12},{"t":4600,"m":3.12},{"t":4610,"m":3.1},{"t":4620,"m":3.07},{"t":4630,"m":3.0},{"t":4640,"m":2.93},{"t":4650,"m":2.86},{"t":4660,"m":2.74},{"t":4670,"m":2.62},{"t":4680,"m":2.5},{"t":4690,"m":2.34},{"t":4700,"m":2.18},{"t":4710,"m":2.02},{"t":4720,"m":1.83},{"t":4730,"m":1.63},{"t":4740,"m":1.44},{"t":4750,"m":1.22},{"t":4760,"m":1.0},{"t":4770,"m":0.78},{"t":4780,"m":0.55},{"t":4790,"m":0.33},{"t":4800,"m":0.1},{"t":4810,"m":-0.12},{"t":4820,"m":-0.35},{"t":4830,"m":-0.57},{"t":4840,"m":-0.78},{"t":4850,"m":-0.99},{"t":4860,"m":-1.2},{"t":4870,"m":-1.38},{"t":4880,"m":-1.57},{"t":4890,"m":-1.75},{"t":4900,"m":-1.92}
],
"L4p":[
{"t":0,"p":0.48},{"t":30,"p":0.94},{"t":60,"p":1.74},{"t":90,"p":2.47},{"t":120,"p":3.06},{"t":150,"p":3.48},{"t":180,"p":3.7},{"t":210,"p":3.7},{"t":240,"p":3.51},{"t":270,"p":3.13},{"t":300,"p":2.59},{"t":330,"p":1.9},{"t":360,"p":1.11},{"t":390,"p":0.26},{"t":420,"p":-0.61},{"t":450,"p":-1.44},{"t":480,"p":-2.19},{"t":510,"p":-2.8},{"t":540,"p":-3.24},{"t":570,"p":-3.49},{"t":600,"p":-3.51},{"t":630,"p":-3.27},{"t":660,"p":-2.79},{"t":690,"p":-2.09},{"t":720,"p":-1.24},{"t":750,"p":-0.31},{"t":780,"p":0.63},{"t":810,"p":1.52},{"t":840,"p":2.28},{"t":870,"p":2.87},{"t":900,"p":3.26},{"t":930,"p":3.41},{"t":960,"p":3.34},{"t":990,"p":3.09},{"t":1020,"p":2.66},{"t":1050,"p":2.08},{"t":1080,"p":1.38},{"t":1110,"p":0.59},{"t":1140,"p":-0.23},{"t":1170,"p":-1.05},{"t":1200,"p":-1.8},{"t":1230,"p":-2.43},{"t":1260,"p":-2.9},{"t":1290,"p":-3.18},{"t":1320,"p":-3.24},{"t":1350,"p":-3.07},{"t":1380,"p":-2.63},{"t":1410,"p":-1.99},{"t":1440,"p":-1.19},{"t":1470,"p":-0.3},{"t":1500,"p":0.63},{"t":1530,"p":1.5},{"t":1560,"p":2.28},{"t":1590,"p":2.91},{"t":1620,"p":3.36},{"t":1650,"p":3.59},{"t":1680,"p":3.59},{"t":1710,"p":3.39},{"t":1740,"p":3.01},{"t":1770,"p":2.46},{"t":1800,"p":1.78},{"t":1830,"p":0.98},{"t":1860,"p":0.12},{"t":1890,"p":-0.75},{"t":1920,"p":-1.57},{"t":1950,"p":-2.3},{"t":1980,"p":-2.89},{"t":2010,"p":-3.3},{"t":2040,"p":-3.51},{"t":2070,"p":-3.49},{"t":2100,"p":-3.22},{"t":2130,"p":-2.71},{"t":2160,"p":-2.02},{"t":2190,"p":-1.19},{"t":2220,"p":-0.3},{"t":2250,"p":0.59},{"t":2280,"p":1.42},{"t":2310,"p":2.14},{"t":2340,"p":2.7},{"t":2370,"p":3.07},{"t":2400,"p":3.21},{"t":2430,"p":3.13},{"t":2460,"p":2.89},{"t":2490,"p":2.48},{"t":2520,"p":1.93},{"t":2550,"p":1.26},{"t":2580,"p":0.52},{"t":2610,"p":-0.25},{"t":2640,"p":-1.01},{"t":2670,"p":-1.7},{"t":2700,"p":-2.29},{"t":2730,"p":-2.73},{"t":2760,"p":-2.99},{"t":2790,"p":-3.06},{"t":2820,"p":-2.9},{"t":2850,"p":-2.5},{"t":2880,"p":-1.92},{"t":2910,"p":-1.18},{"t":2940,"p":-0.34},{"t":2970,"p":0.53},{"t":3000,"p":1.35},{"t":3030,"p":2.09},{"t":3060,"p":2.69},{"t":3090,"p":3.12},{"t":3120,"p":3.34},{"t":3150,"p":3.35},{"t":3180,"p":3.16},{"t":3210,"p":2.8},{"t":3240,"p":2.29},{"t":3270,"p":1.65},{"t":3300,"p":0.92},{"t":3330,"p":0.13},{"t":3360,"p":-0.66},{"t":3390,"p":-1.4},{"t":3420,"p":-2.06},{"t":3450,"p":-2.59},{"t":3480,"p":-2.96},{"t":3510,"p":-3.16},{"t":3540,"p":-3.14},{"t":3570,"p":-2.92},{"t":3600,"p":-2.49},{"t":3630,"p":-1.9},{"t":3660,"p":-1.18},{"t":3690,"p":-0.39},{"t":3720,"p":0.42},{"t":3750,"p":1.17},{"t":3780,"p":1.84},{"t":3810,"p":2.37},{"t":3840,"p":2.74},{"t":3870,"p":2.91},{"t":3900,"p":2.88},{"t":3930,"p":2.68},{"t":3960,"p":2.34},{"t":3990,"p":1.85},{"t":4020,"p":1.25},{"t":4050,"p":0.59},{"t":4080,"p":-0.12},{"t":4110,"p":-0.81},{"t":4140,"p":-1.46},{"t":4170,"p":-2.02},{"t":4200,"p":-2.44},{"t":4230,"p":-2.72},{"t":4260,"p":-2.81},{"t":4290,"p":-2.71},{"t":4320,"p":-2.4},{"t":4350,"p":-1.9},{"t":4380,"p":-1.25},{"t":4410,"p":-0.5},{"t":4440,"p":0.29},{"t":4470,"p":1.07},{"t":4500,"p":1.78},{"t":4530,"p":2.37},{"t":4560,"p":2.8},{"t":4590,"p":3.05},{"t":4620,"p":3.1},{"t":4650,"p":2.97},{"t":4680,"p":2.68},{"t":4710,"p":2.26},{"t":4740,"p":1.72},{"t":4770,"p":1.09},{"t":4800,"p":0.4},{"t":4830,"p":-0.3},{"t":4860,"p":-0.97},{"t":4890,"p":-1.58}
],
"L5m":[
{"t":0,"m":0.19},{"t":10,"m":0.49},{"t":20,"m":0.79},{"t":30,"m":1.09},{"t":40,"m":1.37},{"t":50,"m":1.65},{"t":60,"m":1.93},{"t":70,"m":2.17},{"t":80,"m":2.42},{"t":90,"m":2.66},{"t":100,"m":2.85},{"t":110,"m":3.03},{"t":120,"m":3.22},{"t":130,"m":3.34},{"t":140,"m":3.45},{"t":150,"m":3.57},{"t":160,"m":3.62},{"t":170,"m":3.67},{"t":180,"m":3.69},{"t":190,"m":3.68},{"t":200,"m":3.65},{"t":210,"m":3.6},{"t":220,"m":3.5},{"t":230,"m":3.41},{"t":240,"m":3.31},{"t":250,"m":3.16},{"t":260,"m":3.01},{"t":270,"m":2.86},{"t":280,"m":2.66},{"t":290,"m":2.47},{"t":300,"m":2.27},{"t":310,"m":2.03},{"t":320,"m":1.8},{"t":330,"m":1.56},{"t":340,"m":1.3},{"t":350,"m":1.04},{"t":360,"m":0.78},{"t":370,"m":0.51},{"t":380,"m":0.25},{"t":390,"m":-0.02},{"t":400,"m":-0.28},{"t":410,"m":-0.55},{"t":420,"m":-0.81},{"t":430,"m":-1.05},{"t":440,"m":-1.29},{"t":450,"m":-1.53},{"t":460,"m":-1.74},{"t":470,"m":-1.94},{"t":480,"m":-2.15},{"t":490,"m":-2.31},{"t":500,"m":-2.48},{"t":510,"m":-2.64},{"t":520,"m":-2.74},{"t":530,"m":-2.85},{"t":540,"m":-2.95},{"t":550,"m":-3.0},{"t":560,"m":-3.04},{"t":570,"m":-3.09},{"t":580,"m":-3.09},{"t":590,"m":-3.06},{"t":600,"m":-3.01},{"t":610,"m":-2.9},{"t":620,"m":-2.8},{"t":630,"m":-2.69},{"t":640,"m":-2.51},{"t":650,"m":-2.33},{"t":660,"m":-2.15},{"t":670,"m":-1.91},{"t":680,"m":-1.68},{"t":690,"m":-1.44},{"t":700,"m":-1.16},{"t":710,"m":-0.87},{"t":720,"m":-0.59},{"t":730,"m":-0.29},{"t":740,"m":0.01},{"t":750,"m":0.31},{"t":760,"m":0.61},{"t":770,"m":0.91},{"t":780,"m":1.21},{"t":790,"m":1.48},{"t":800,"m":1.76},{"t":810,"m":2.03},{"t":820,"m":2.26},{"t":830,"m":2.48},{"t":840,"m":2.71},{"t":850,"m":2.88},{"t":860,"m":3.04},{"t":870,"m":3.21},{"t":880,"m":3.3},{"t":890,"m":3.39},{"t":900,"m":3.48},{"t":910,"m":3.51},{"t":920,"m":3.53},{"t":930,"m":3.51},{"t":940,"m":3.47},{"t":950,"m":3.4},{"t":960,"m":3.34},{"t":970,"m":3.23},{"t":980,"m":3.11},{"t":990,"m":3.0},{"t":1000,"m":2.83},{"t":1010,"m":2.67},{"t":1020,"m":2.5},{"t":1030,"m":2.29},{"t":1040,"m":2.08},{"t":1050,"m":1.87},{"t":1060,"m":1.63},{"t":1070,"m":1.39},{"t":1080,"m":1.15},{"t":1090,"m":0.9},{"t":1100,"m":0.64},{"t":1110,"m":0.39},{"t":1120,"m":0.13},{"t":1130,"m":-0.12},{"t":1140,"m":-0.38},{"t":1150,"m":-0.62},{"t":1160,"m":-0.86},{"t":1170,"m":-1.1},{"t":1180,"m":-1.31},{"t":1190,"m":-1.52},{"t":1200,"m":-1.73},{"t":1210,"m":-1.9},{"t":1220,"m":-2.06},{"t":1230,"m":-2.23},{"t":1240,"m":-2.34},{"t":1250,"m":-2.46},{"t":1260,"m":-2.57},{"t":1270,"m":-2.63},{"t":1280,"m":-2.68},{"t":1290,"m":-2.74},{"t":1300,"m":-2.76},{"t":1310,"m":-2.75},{"t":1320,"m":-2.72},{"t":1330,"m":-2.64},{"t":1340,"m":-2.55},{"t":1350,"m":-2.47},{"t":1360,"m":-2.31},{"t":1370,"m":-2.16},{"t":1380,"m":-2.0},{"t":1390,"m":-1.79},{"t":1400,"m":-1.57},{"t":1410,"m":-1.36},{"t":1420,"m":-1.1},{"t":1430,"m":-0.85},{"t":1440,"m":-0.59},{"t":1450,"m":-0.31},{"t":1460,"m":-0.03},{"t":1470,"m":0.25},{"t":1480,"m":0.53},{"t":1490,"m":0.82},{"t":1500,"m":1.1},{"t":1510,"m":1.37},{"t":1520,"m":1.64},{"t":1530,"m":1.91},{"t":1540,"m":2.14},{"t":1550,"m":2.37},{"t":1560,"m":2.6},{"t":1570,"m":2.78},{"t":1580,"m":2.97},{"t":1590,"m":3.15},{"t":1600,"m":3.26},{"t":1610,"m":3.38},{"t":1620,"m":3.49},{"t":1630,"m":3.54},{"t":1640,"m":3.58},{"t":1650,"m":3.6},{"t":1660,"m":3.59},{"t":1670,"m":3.56},{"t":1680,"m":3.5},{"t":1690,"m":3.41},{"t":1700,"m":3.31},{"t":1710,"m":3.22},{"t":1720,"m":3.07},{"t":1730,"m":2.92},{"t":1740,"m":2.77},{"t":1750,"m":2.57},{"t":1760,"m":2.37},{"t":1770,"m":2.17},{"t":1780,"m":1.94},{"t":1790,"m":1.7},{"t":1800,"m":1.47},{"t":1810,"m":1.21},{"t":1820,"m":0.96},{"t":1830,"m":0.7},{"t":1840,"m":0.43},{"t":1850,"m":0.17},{"t":1860,"m":-0.1},{"t":1870,"m":-0.36},{"t":1880,"m":-0.61},{"t":1890,"m":-0.87},{"t":1900,"m":-1.1},{"t":1910,"m":-1.34},{"t":1920,"m":-1.57},{"t":1930,"m":-1.77},{"t":1940,"m":-1.97},{"t":1950,"m":-2.17},{"t":1960,"m":-2.32},{"t":1970,"m":-2.47},{"t":1980,"m":-2.62},{"t":1990,"m":-2.71},{"t":2000,"m":-2.81},{"t":2010,"m":-2.9},{"t":2020,"m":-2.94},{"t":2030,"m":-2.97},{"t":2040,"m":-3.0},{"t":2050,"m":-2.98},{"t":2060,"m":-2.94},{"t":2070,"m":-2.89},{"t":2080,"m":-2.78},{"t":2090,"m":-2.66},{"t":2100,"m":-2.55},{"t":2110,"m":-2.37},{"t":2120,"m":-2.19},{"t":2130,"m":-2.01},{"t":2140,"m":-1.78},{"t":2150,"m":-1.54},{"t":2160,"m":-1.31},{"t":2170,"m":-1.04},{"t":2180,"m":-0.78},{"t":2190,"m":-0.51},{"t":2200,"m":-0.22},{"t":2210,"m":0.06},{"t":2220,"m":0.35},{"t":2230,"m":0.63},{"t":2240,"m":0.91},{"t":2250,"m":1.19},{"t":2260,"m":1.45},{"t":2270,"m":1.7},{"t":2280,"m":1.96},{"t":2290,"m":2.17},{"t":2300,"m":2.38},{"t":2310,"m":2.59},{"t":2320,"m":2.75},{"t":2330,"m":2.9},{"t":2340,"m":3.06},{"t":2350,"m":3.14},{"t":2360,"m":3.23},{"t":2370,"m":3.31},{"t":2380,"m":3.33},{"t":2390,"m":3.35},{"t":2400,"m":3.34},{"t":2410,"m":3.29},{"t":2420,"m":3.23},{"t":2430,"m":3.17},{"t":2440,"m":3.06},{"t":2450,"m":2.95},{"t":2460,"m":2.84},{"t":2470,"m":2.68},{"t":2480,"m":2.52},{"t":2490,"m":2.36},{"t":2500,"m":2.16},{"t":2510,"m":1.95},{"t":2520,"m":1.75},{"t":2530,"m":1.52},{"t":2540,"m":1.29},{"t":2550,"m":1.06},{"t":2560,"m":0.81},{"t":2570,"m":0.57},{"t":2580,"m":0.32},{"t":2590,"m":0.07},{"t":2600,"m":-0.17},{"t":2610,"m":-0.42},{"t":2620,"m":-0.65},{"t":2630,"m":-0.88},{"t":2640,"m":-1.11},{"t":2650,"m":-1.31},{"t":2660,"m":-1.52},{"t":2670,"m":-1.72},{"t":2680,"m":-1.88},{"t":2690,"m":-2.04},{"t":2700,"m":-2.2},{"t":2710,"m":-2.31},{"t":2720,"m":-2.42},{"t":2730,"m":-2.53},{"t":2740,"m":-2.59},{"t":2750,"m":-2.64},{"t":2760,"m":-2.7},{"t":2770,"m":-2.71},{"t":2780,"m":-2.7},{"t":2790,"m":-2.67},{"t":2800,"m":-2.59},{"t":2810,"m":-2.51},{"t":2820,"m":-2.43},{"t":2830,"m":-2.28},{"t":2840,"m":-2.13},{"t":2850,"m":-1.98},{"t":2860,"m":-1.78},{"t":2870,"m":-1.57},{"t":2880,"m":-1.37},{"t":2890,"m":-1.12},{"t":2900,"m":-0.88},{"t":2910,"m":-0.63},{"t":2920,"m":-0.36},{"t":2930,"m":-0.09},{"t":2940,"m":0.18},{"t":2950,"m":0.45},{"t":2960,"m":0.73},{"t":2970,"m":1.0},{"t":2980,"m":1.26},{"t":2990,"m":1.52},{"t":3000,"m":1.78},{"t":3010,"m":2.0},{"t":3020,"m":2.22},{"t":3030,"m":2.44},{"t":3040,"m":2.61},{"t":3050,"m":2.79},{"t":3060,"m":2.96},{"t":3070,"m":3.07},{"t":3080,"m":3.18},{"t":3090,"m":3.29},{"t":3100,"m":3.34},{"t":3110,"m":3.38},{"t":3120,"m":3.4},{"t":3130,"m":3.39},{"t":3140,"m":3.36},{"t":3150,"m":3.31},{"t":3160,"m":3.22},{"t":3170,"m":3.13},{"t":3180,"m":3.04},{"t":3190,"m":2.9},{"t":3200,"m":2.76},{"t":3210,"m":2.62},{"t":3220,"m":2.43},{"t":3230,"m":2.24},{"t":3240,"m":2.05},{"t":3250,"m":1.83},{"t":3260,"m":1.61},{"t":3270,"m":1.39},{"t":3280,"m":1.14},{"t":3290,"m":0.9},{"t":3300,"m":0.65},{"t":3310,"m":0.4},{"t":3320,"m":0.16},{"t":3330,"m":-0.09},{"t":3340,"m":-0.34},{"t":3350,"m":-0.58},{"t":3360,"m":-0.83},{"t":3370,"m":-1.05},{"t":3380,"m":-1.27},{"t":3390,"m":-1.49},{"t":3400,"m":-1.68},{"t":3410,"m":-1.87},{"t":3420,"m":-2.06},{"t":3430,"m":-2.2},{"t":3440,"m":-2.34},{"t":3450,"m":-2.48},{"t":3460,"m":-2.57},{"t":3470,"m":-2.66},{"t":3480,"m":-2.75},{"t":3490,"m":-2.78},{"t":3500,"m":-2.81},{"t":3510,"m":-2.84},{"t":3520,"m":-2.82},{"t":3530,"m":-2.78},{"t":3540,"m":-2.74},{"t":3550,"m":-2.64},{"t":3560,"m":-2.53},{"t":3570,"m":-2.43},{"t":3580,"m":-2.27},{"t":3590,"m":-2.1},{"t":3600,"m":-1.94},{"t":3610,"m":-1.73},{"t":3620,"m":-1.52},{"t":3630,"m":-1.31},{"t":3640,"m":-1.06},{"t":3650,"m":-0.82},{"t":3660,"m":-0.57},{"t":3670,"m":-0.31},{"t":3680,"m":-0.04},{"t":3690,"m":0.22},{"t":3700,"m":0.48},{"t":3710,"m":0.74},{"t":3720,"m":1.0},{"t":3730,"m":1.24},{"t":3740,"m":1.48},{"t":3750,"m":1.72},{"t":3760,"m":1.92},{"t":3770,"m":2.13},{"t":3780,"m":2.33},{"t":3790,"m":2.48},{"t":3800,"m":2.63},{"t":3810,"m":2.78},{"t":3820,"m":2.87},{"t":3830,"m":2.96},{"t":3840,"m":3.05},{"t":3850,"m":3.08},{"t":3860,"m":3.11},{"t":3870,"m":3.12},{"t":3880,"m":3.09},{"t":3890,"m":3.04},{"t":3900,"m":3.0},{"t":3910,"m":2.91},{"t":3920,"m":2.82},{"t":3930,"m":2.73},{"t":3940,"m":2.59},{"t":3950,"m":2.45},{"t":3960,"m":2.31},{"t":3970,"m":2.13},{"t":3980,"m":1.95},{"t":3990,"m":1.77},{"t":4000,"m":1.56},{"t":4010,"m":1.36},{"t":4020,"m":1.15},{"t":4030,"m":0.93},{"t":4040,"m":0.7},{"t":4050,"m":0.48},{"t":4060,"m":0.25},{"t":4070,"m":0.03},{"t":4080,"m":-0.2},{"t":4090,"m":-0.41},{"t":4100,"m":-0.63},{"t":4110,"m":-0.84},{"t":4120,"m":-1.03},{"t":4130,"m":-1.23},{"t":4140,"m":-1.42},{"t":4150,"m":-1.57},{"t":4160,"m":-1.73},{"t":4170,"m":-1.88},{"t":4180,"m":-1.99},{"t":4190,"m":-2.11},{"t":4200,"m":-2.22},{"t":4210,"m":-2.28},{"t":4220,"m":-2.34},{"t":4230,"m":-2.4},{"t":4240,"m":-2.42},{"t":4250,"m":-2.43},{"t":4260,"m":-2.41},{"t":4270,"m":-2.36},{"t":4280,"m":-2.29},{"t":4290,"m":-2.23},{"t":4300,"m":-2.1},{"t":4310,"m":-1.98},{"t":4320,"m":-1.85},{"t":4330,"m":-1.67},{"t":4340,"m":-1.49},{"t":4350,"m":-1.31},{"t":4360,"m":-1.09},{"t":4370,"m":-0.87},{"t":4380,"m":-0.65},{"t":4390,"m":-0.4},{"t":4400,"m":-0.16},{"t":4410,"m":0.09},{"t":4420,"m":0.35},{"t":4430,"m":0.6},{"t":4440,"m":0.86},{"t":4450,"m":1.1},{"t":4460,"m":1.35},{"t":4470,"m":1.59},{"t":4480,"m":1.8},{"t":4490,"m":2.02},{"t":4500,"m":2.23},{"t":4510,"m":2.4},{"t":4520,"m":2.57},{"t":4530,"m":2.74},{"t":4540,"m":2.85},{"t":4550,"m":2.97},{"t":4560,"m":3.08},{"t":4570,"m":3.13},{"t":4580,"m":3.18},{"t":4590,"m":3.23},{"t":4600,"m":3.23},{"t":4610,"m":3.21},{"t":4620,"m":3.18},{"t":4630,"m":3.11},{"t":4640,"m":3.04},{"t":4650,"m":2.97},{"t":4660,"m":2.85},{"t":4670,"m":2.73},{"t":4680,"m":2.61},{"t":4690,"m":2.45},{"t":4700,"m":2.29},{"t":4710,"m":2.13},{"t":4720,"m":1.93},{"t":4730,"m":1.74},{"t":4740,"m":1.54},{"t":4750,"m":1.32},{"t":4760,"m":1.11},{"t":4770,"m":0.89},{"t":4780,"m":0.66},{"t":4790,"m":0.43},{"t":4800,"m":0.2},{"t":4810,"m":-0.03},{"t":4820,"m":-0.25},{"t":4830,"m":-0.48},{"t":4840,"m":-0.69},{"t":4850,"m":-0.9},{"t":4860,"m":-1.11},{"t":4870,"m":-1.29},{"t":4880,"m":-1.47},{"t":4890,"m":-1.65},{"t":4900,"m":-1.82}
],
"L5p":[
{"t":0,"p":0.15},{"t":30,"p":0.64},{"t":60,"p":1.51},{"t":90,"p":2.3},{"t":120,"p":2.94},{"t":150,"p":3.4},{"t":180,"p":3.63},{"t":210,"p":3.64},{"t":240,"p":3.45},{"t":270,"p":3.08},{"t":300,"p":2.54},{"t":330,"p":1.87},{"t":360,"p":1.08},{"t":390,"p":0.23},{"t":420,"p":-0.63},{"t":450,"p":-1.46},{"t":480,"p":-2.2},{"t":510,"p":-2.82},{"t":540,"p":-3.27},{"t":570,"p":-3.51},{"t":600,"p":-3.53},{"t":630,"p":-3.28},{"t":660,"p":-2.79},{"t":690,"p":-2.09},{"t":720,"p":-1.24},{"t":750,"p":-0.32},{"t":780,"p":0.6},{"t":810,"p":1.45},{"t":840,"p":2.17},{"t":870,"p":2.73},{"t":900,"p":3.1},{"t":930,"p":3.25},{"t":960,"p":3.19},{"t":990,"p":2.96},{"t":1020,"p":2.56},{"t":1050,"p":2.01},{"t":1080,"p":1.33},{"t":1110,"p":0.56},{"t":1140,"p":-0.25},{"t":1170,"p":-1.07},{"t":1200,"p":-1.82},{"t":1230,"p":-2.46},{"t":1260,"p":-2.94},{"t":1290,"p":-3.22},{"t":1320,"p":-3.29},{"t":1350,"p":-3.11},{"t":1380,"p":-2.68},{"t":1410,"p":-2.03},{"t":1440,"p":-1.22},{"t":1470,"p":-0.33},{"t":1500,"p":0.59},{"t":1530,"p":1.47},{"t":1560,"p":2.24},{"t":1590,"p":2.87},{"t":1620,"p":3.32},{"t":1650,"p":3.48},{"t":1680,"p":3.48},{"t":1710,"p":3.32},{"t":1740,"p":2.99},{"t":1770,"p":2.44},{"t":1800,"p":1.76},{"t":1830,"p":0.97},{"t":1860,"p":0.12},{"t":1890,"p":-0.75},{"t":1920,"p":-1.58},{"t":1950,"p":-2.31},{"t":1980,"p":-2.91},{"t":2010,"p":-3.32},{"t":2040,"p":-3.53},{"t":2070,"p":-3.5},{"t":2100,"p":-3.22},{"t":2130,"p":-2.7},{"t":2160,"p":-1.99},{"t":2190,"p":-1.17},{"t":2220,"p":-0.29},{"t":2250,"p":0.57},{"t":2280,"p":1.37},{"t":2310,"p":2.03},{"t":2340,"p":2.55},{"t":2370,"p":2.89},{"t":2400,"p":3.03},{"t":2430,"p":2.97},{"t":2460,"p":2.75},{"t":2490,"p":2.38},{"t":2520,"p":1.87},{"t":2550,"p":1.23},{"t":2580,"p":0.52},{"t":2610,"p":-0.24},{"t":2640,"p":-1.0},{"t":2670,"p":-1.7},{"t":2700,"p":-2.29},{"t":2730,"p":-2.73},{"t":2760,"p":-3.0},{"t":2790,"p":-3.07},{"t":2820,"p":-2.91},{"t":2850,"p":-2.51},{"t":2880,"p":-1.91},{"t":2910,"p":-1.17},{"t":2940,"p":-0.33},{"t":2970,"p":0.53},{"t":3000,"p":1.36},{"t":3030,"p":2.1},{"t":3060,"p":2.7},{"t":3090,"p":3.12},{"t":3120,"p":3.34},{"t":3150,"p":3.35},{"t":3180,"p":3.17},{"t":3210,"p":2.82},{"t":3240,"p":2.32},{"t":3270,"p":1.68},{"t":3300,"p":0.95},{"t":3330,"p":0.17},{"t":3360,"p":-0.63},{"t":3390,"p":-1.38},{"t":3420,"p":-2.05},{"t":3450,"p":-2.59},{"t":3480,"p":-2.97},{"t":3510,"p":-3.16},{"t":3540,"p":-3.14},{"t":3570,"p":-2.9},{"t":3600,"p":-2.45},{"t":3630,"p":-1.84},{"t":3660,"p":-1.12},{"t":3690,"p":-0.33},{"t":3720,"p":0.45},{"t":3750,"p":1.18},{"t":3780,"p":1.81},{"t":3810,"p":2.31},{"t":3840,"p":2.64},{"t":3870,"p":2.81},{"t":3900,"p":2.79},{"t":3930,"p":2.62},{"t":3960,"p":2.31},{"t":3990,"p":1.86},{"t":4020,"p":1.29},{"t":4050,"p":0.65},{"t":4080,"p":-0.05},{"t":4110,"p":-0.75},{"t":4140,"p":-1.41},{"t":4170,"p":-1.99},{"t":4200,"p":-2.43},{"t":4230,"p":-2.72},{"t":4260,"p":-2.81},{"t":4290,"p":-2.7},{"t":4320,"p":-2.37},{"t":4350,"p":-1.84},{"t":4380,"p":-1.17},{"t":4410,"p":-0.41},{"t":4440,"p":0.4},{"t":4470,"p":1.19},{"t":4500,"p":1.9},{"t":4530,"p":2.48},{"t":4560,"p":2.91},{"t":4590,"p":3.12},{"t":4620,"p":3.15},{"t":4650,"p":3.05},{"t":4680,"p":2.79},{"t":4710,"p":2.36},{"t":4740,"p":1.82},{"t":4770,"p":1.19},{"t":4800,"p":0.5},{"t":4830,"p":-0.2},{"t":4860,"p":-0.88},{"t":4890,"p":-1.49}
]
},
"concat":[
{"width":373,"height":164,"resolve":{"axis":{"x":"independent"}},
"layer":[
{"data":{"name":"L2p"},"mark":{"type":"line","strokeWidth":1.5},"encoding":{
"x":{"field":"t","type":"quantitative","scale":{"domain":[0,4905],"nice":false,"zero":false},"axis":{"orient":"bottom","values":[0,1440,2880,4320],"labelExpr":"['2013-12-20','2013-12-21','2013-12-22','2013-12-23'][round(datum.value/1440)]","title":"Date","labelPadding":7,"titlePadding":7,"titleX":179}},
"y":{"field":"p","type":"quantitative","scale":{"domain":[-4,4],"nice":false,"zero":false},"axis":{"values":[-4,-2,0,2,4],"labelExpr":"(datum.value<0?'-':'')+format(abs(datum.value),'.1f')","title":"Stage (m)","labelPadding":14,"titlePadding":10,"titleY":85}},
"stroke":{"datum":"Predicted","type":"nominal","scale":{"domain":["Predicted"],"range":["#0000FF"]},"legend":{"orient":"none","legendX":273,"legendY":-12.5,"title":null,"symbolSize":900,"symbolStrokeWidth":1.5,"labelOffset":3}}}},
{"data":{"name":"L2m"},"mark":{"type":"circle","size":18,"opacity":1},"encoding":{
"x":{"field":"t","type":"quantitative","scale":{"domain":[0,4905],"nice":false,"zero":false},"axis":{"orient":"top","labels":false,"ticks":false,"domain":false,"title":"L2","titleX":170,"titleY":-1,"titleBaseline":"alphabetic","titleFontSize":17,"titleFontWeight":"bold"}},
"y":{"field":"m","type":"quantitative","scale":{"domain":[-4,4],"nice":false,"zero":false},"axis":{"values":[-4,-2,0,2,4],"labelExpr":"(datum.value<0?'-':'')+format(abs(datum.value),'.1f')","title":"Stage (m)","labelPadding":14,"titlePadding":10,"titleY":85}},
"fill":{"datum":"Measured","type":"nominal","scale":{"domain":["Measured"],"range":["#C0504D"]},"legend":{"orient":"none","legendX":279,"legendY":-25,"title":null,"symbolSize":14,"labelOffset":12}}}}
]},
{"width":373,"height":164,"resolve":{"axis":{"x":"independent"}},
"layer":[
{"data":{"name":"L3p"},"mark":{"type":"line","strokeWidth":1.5},"encoding":{
"x":{"field":"t","type":"quantitative","scale":{"domain":[0,4905],"nice":false,"zero":false},"axis":{"orient":"bottom","values":[0,1440,2880,4320],"labelExpr":"['2013-12-20','2013-12-21','2013-12-22','2013-12-23'][round(datum.value/1440)]","title":"Date","labelPadding":7,"titlePadding":7,"titleX":179}},
"y":{"field":"p","type":"quantitative","scale":{"domain":[-4,4],"nice":false,"zero":false},"axis":{"values":[-4,-2,0,2,4],"labelExpr":"(datum.value<0?'-':'')+format(abs(datum.value),'.1f')","title":"Stage (m)","labelPadding":14,"titlePadding":10,"titleY":85}},
"stroke":{"datum":"Predicted","type":"nominal","scale":{"domain":["Predicted"],"range":["#0000FF"]},"legend":{"orient":"none","legendX":273,"legendY":-33,"title":null,"symbolSize":900,"symbolStrokeWidth":1.5,"labelOffset":3}}}},
{"data":{"name":"L3m"},"mark":{"type":"circle","size":18,"opacity":1},"encoding":{
"x":{"field":"t","type":"quantitative","scale":{"domain":[0,4905],"nice":false,"zero":false},"axis":{"orient":"top","labels":false,"ticks":false,"domain":false,"title":"L3","titleX":170,"titleY":-1,"titleBaseline":"alphabetic","titleFontSize":17,"titleFontWeight":"bold"}},
"y":{"field":"m","type":"quantitative","scale":{"domain":[-4,4],"nice":false,"zero":false},"axis":{"values":[-4,-2,0,2,4],"labelExpr":"(datum.value<0?'-':'')+format(abs(datum.value),'.1f')","title":"Stage (m)","labelPadding":14,"titlePadding":10,"titleY":85}},
"fill":{"datum":"Measured","type":"nominal","scale":{"domain":["Measured"],"range":["#C0504D"]},"legend":{"orient":"none","legendX":279,"legendY":-3,"title":null,"symbolSize":14,"labelOffset":12}}}}
]},
{"width":373,"height":164,"resolve":{"axis":{"x":"independent"}},
"layer":[
{"data":{"name":"L4p"},"mark":{"type":"line","strokeWidth":1.5},"encoding":{
"x":{"field":"t","type":"quantitative","scale":{"domain":[0,4905],"nice":false,"zero":false},"axis":{"orient":"bottom","values":[0,1440,2880,4320],"labelExpr":"['2013-12-20','2013-12-21','2013-12-22','2013-12-23'][round(datum.value/1440)]","title":"Date","labelPadding":7,"titlePadding":7,"titleX":179}},
"y":{"field":"p","type":"quantitative","scale":{"domain":[-4,4],"nice":false,"zero":false},"axis":{"values":[-4,-2,0,2,4],"labelExpr":"(datum.value<0?'-':'')+format(abs(datum.value),'.1f')","title":"Stage (m)","labelPadding":14,"titlePadding":10,"titleY":85}},
"stroke":{"datum":"Predicted","type":"nominal","scale":{"domain":["Predicted"],"range":["#0000FF"]},"legend":{"orient":"none","legendX":273,"legendY":-33,"title":null,"symbolSize":900,"symbolStrokeWidth":1.5,"labelOffset":3}}}},
{"data":{"name":"L4m"},"mark":{"type":"circle","size":18,"opacity":1},"encoding":{
"x":{"field":"t","type":"quantitative","scale":{"domain":[0,4905],"nice":false,"zero":false},"axis":{"orient":"top","labels":false,"ticks":false,"domain":false,"title":"L4","titleX":170,"titleY":-1,"titleBaseline":"alphabetic","titleFontSize":17,"titleFontWeight":"bold"}},
"y":{"field":"m","type":"quantitative","scale":{"domain":[-4,4],"nice":false,"zero":false},"axis":{"values":[-4,-2,0,2,4],"labelExpr":"(datum.value<0?'-':'')+format(abs(datum.value),'.1f')","title":"Stage (m)","labelPadding":14,"titlePadding":10,"titleY":85}},
"fill":{"datum":"Measured","type":"nominal","scale":{"domain":["Measured"],"range":["#C0504D"]},"legend":{"orient":"none","legendX":279,"legendY":-3,"title":null,"symbolSize":14,"labelOffset":12}}}}
]},
{"width":373,"height":164,"resolve":{"axis":{"x":"independent"}},
"layer":[
{"data":{"name":"L5p"},"mark":{"type":"line","strokeWidth":1.5},"encoding":{
"x":{"field":"t","type":"quantitative","scale":{"domain":[0,4905],"nice":false,"zero":false},"axis":{"orient":"bottom","values":[0,1440,2880,4320],"labelExpr":"['2013-12-20','2013-12-21','2013-12-22','2013-12-23'][round(datum.value/1440)]","title":"Date","labelPadding":7,"titlePadding":7,"titleX":179}},
"y":{"field":"p","type":"quantitative","scale":{"domain":[-4,4],"nice":false,"zero":false},"axis":{"values":[-4,-2,0,2,4],"labelExpr":"(datum.value<0?'-':'')+format(abs(datum.value),'.1f')","title":"Stage (m)","labelPadding":14,"titlePadding":10,"titleY":85}},
"stroke":{"datum":"Predicted","type":"nominal","scale":{"domain":["Predicted"],"range":["#0000FF"]},"legend":{"orient":"none","legendX":273,"legendY":-33,"title":null,"symbolSize":900,"symbolStrokeWidth":1.5,"labelOffset":3}}}},
{"data":{"name":"L5m"},"mark":{"type":"circle","size":18,"opacity":1},"encoding":{
"x":{"field":"t","type":"quantitative","scale":{"domain":[0,4905],"nice":false,"zero":false},"axis":{"orient":"top","labels":false,"ticks":false,"domain":false,"title":"L5","titleX":170,"titleY":-1,"titleBaseline":"alphabetic","titleFontSize":17,"titleFontWeight":"bold"}},
"y":{"field":"m","type":"quantitative","scale":{"domain":[-4,4],"nice":false,"zero":false},"axis":{"values":[-4,-2,0,2,4],"labelExpr":"(datum.value<0?'-':'')+format(abs(datum.value),'.1f')","title":"Stage (m)","labelPadding":14,"titlePadding":10,"titleY":85}},
"fill":{"datum":"Measured","type":"nominal","scale":{"domain":["Measured"],"range":["#C0504D"]},"legend":{"orient":"none","legendX":279,"legendY":-3,"title":null,"symbolSize":14,"labelOffset":12}}}}
]}
]
}
